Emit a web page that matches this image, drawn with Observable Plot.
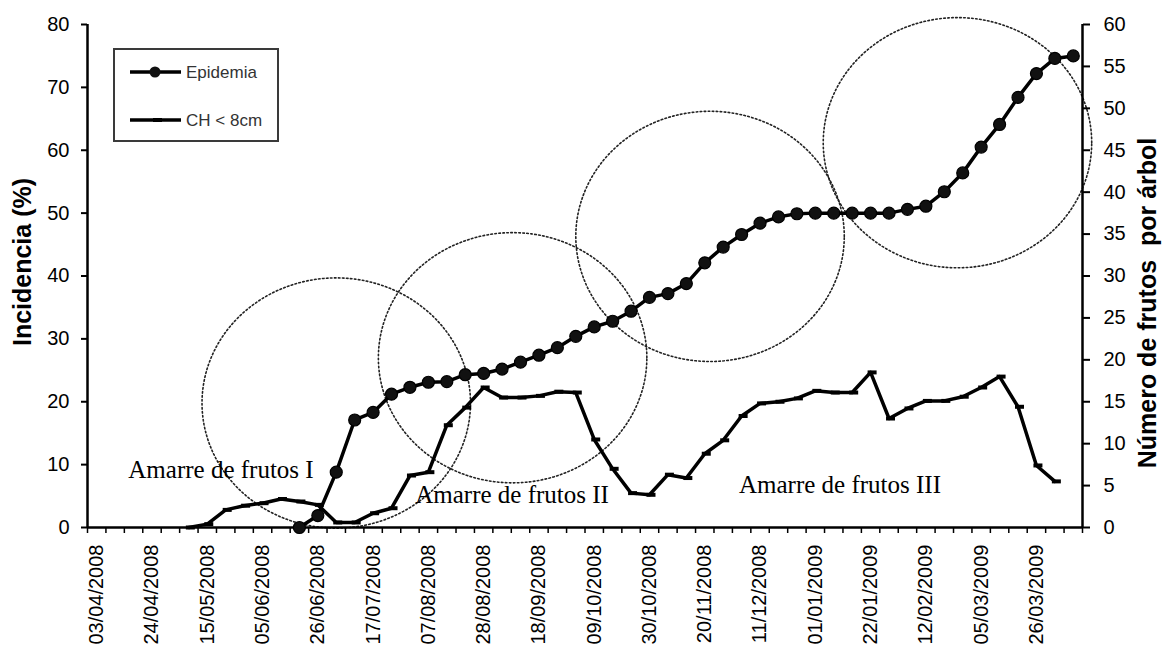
<!DOCTYPE html>
<html><head><meta charset="utf-8">
<script src="https://cdn.jsdelivr.net/npm/d3@7"></script>
<script src="https://cdn.jsdelivr.net/npm/@observablehq/plot@0.6"></script>
<style>
body{margin:0;background:#fff;}
#wrap{position:relative;width:1163px;height:654px;overflow:hidden;}
#legend{position:absolute;left:113px;top:48px;width:162px;height:90px;border:2px solid #3a3a3a;background:#fff;}
#legend svg{display:block;}
</style></head><body>
<div id="wrap"><div id="legend"></div></div>
<script>
// ---- data ----
const startDate = "2008-04-03";          // first weekly category
const weekCount = 54;                     // weekly categories on the x axis
const epidemia = [null,null,null,null,null,null,null,null,null,null,null,
  0,1.9,8.8,17.1,18.3,21.2,22.3,23.1,23.2,24.3,24.5,25.2,26.3,27.4,28.6,30.4,31.9,32.8,34.4,36.6,
  37.2,38.8,42.1,44.6,46.6,48.4,49.4,49.9,50,50,50,50,50,50.6,51.1,53.4,56.4,60.5,64.1,68.4,72.2,74.6,75.0];
const chFrutos = [null,null,null,null,null,
  0,0.4,2.1,2.6,2.9,3.4,3.1,2.7,0.6,0.6,1.7,2.3,6.2,6.6,12.2,14.3,16.7,15.5,15.5,15.7,16.2,16.1,
  10.5,7.0,4.1,3.9,6.3,5.9,8.8,10.4,13.3,14.8,15.0,15.4,16.3,16.1,16.1,18.5,13.0,14.2,15.1,15.1,
  15.6,16.7,18.0,14.4,7.4,5.5,null];
const tickLabels = ["03/04/2008","24/04/2008","15/05/2008","05/06/2008","26/06/2008","17/07/2008",
  "07/08/2008","28/08/2008","18/09/2008","09/10/2008","30/10/2008","20/11/2008","11/12/2008",
  "01/01/2009","22/01/2009","12/02/2009","05/03/2009","26/03/2009"];
const leftTicks = [0,10,20,30,40,50,60,70,80];
const rightTicks = [0,5,10,15,20,25,30,35,40,45,50,55,60];
const annotationText = ["Amarre de frutos I","Amarre de frutos II","Amarre de frutos III"];
const annotationDate = ["2008-04-15","2008-08-02","2008-12-03"];
const annotationValue = [9.1, 5.1, 6.8];
const ellipseCenterDate = ["2008-07-03","2008-09-08","2008-11-22","2009-02-24"];
const ellipseCenterValue = [19.8, 27.0, 46.3, 61.2];
const ellipseRadiusDays = 51;
const ellipseRadiusValue = 19.9;

// ---- build ----
const parseISO = d3.utcParse("%Y-%m-%d");
const parseDMY = d3.utcParse("%d/%m/%Y");
const fmtDMY = d3.utcFormat("%d/%m/%Y");
const start = parseISO(startDate);
const dates = d3.range(weekCount).map(i => d3.utcDay.offset(start, 7 * i));
const rightMax = 60, leftMax = 80;
const toLeft = v => v * leftMax / rightMax;

const epiData = dates.map((d, i) => ({date: d, v: epidemia[i]})).filter(d => d.v != null);
const chData = dates.map((d, i) => ({date: d, v: chFrutos[i] == null ? null : toLeft(chFrutos[i])})).filter(d => d.v != null);
const annotations = annotationText.map((t, i) => ({text: t, date: parseISO(annotationDate[i]), v: annotationValue[i]}));
const ellipsePts = ellipseCenterDate.flatMap((c, k) => {
  const cd = +parseISO(c);
  return d3.range(0, 361, 2).map(a => ({
    k,
    date: new Date(cd + ellipseRadiusDays * 864e5 * Math.cos(a * Math.PI / 180)),
    v: ellipseCenterValue[k] + ellipseRadiusValue * Math.sin(a * Math.PI / 180)
  }));
});

const x0 = d3.utcHour.offset(dates[0], -84);
const x1 = d3.utcHour.offset(dates[dates.length - 1], 84);
const boundaries = d3.range(weekCount + 1).map(i => d3.utcHour.offset(x0, 168 * i));
const labelDates = tickLabels.map(parseDMY);

const dashSymbol = {draw(context, size) { context.rect(-3, -2, 9, 4); }};

const font = "Arial, 'Liberation Sans', sans-serif";
const plot = Plot.plot({
  width: 1163, height: 654,
  marginLeft: 87, marginRight: 81, marginTop: 24, marginBottom: 127,
  style: {fontFamily: font, fontSize: "20px", color: "#000", background: "transparent", overflow: "visible"},
  x: {type: "utc", domain: [x0, x1]},
  y: {domain: [0, leftMax]},
  marks: [
    Plot.line(ellipsePts, {x: "date", y: "v", z: "k", stroke: "#222", strokeWidth: 1.6, strokeDasharray: "1.6 2.4"}),
    Plot.axisY({ticks: leftTicks, tickSize: 6, tickPadding: 12, fontSize: 20, label: null, strokeWidth: 2}),
    Plot.axisY({anchor: "right", ticks: rightTicks.map(toLeft), tickFormat: d => String(Math.round(d * rightMax / leftMax)),
      tickSize: 7, tickPadding: 14, fontSize: 20, label: null, strokeWidth: 2}),
    Plot.axisX({ticks: boundaries, tickSize: 6, tickFormat: () => "", label: null, strokeWidth: 1.5}),
    Plot.axisX({ticks: labelDates, tickSize: 0, tickPadding: 17, tickRotate: -90, tickFormat: fmtDMY, fontSize: 20, label: null}),
    Plot.ruleX([x0, x1], {stroke: "#000", strokeWidth: 2.5}),
    Plot.ruleY([0], {stroke: "#000", strokeWidth: 2.5}),
    Plot.line(chData, {x: "date", y: "v", stroke: "#000", strokeWidth: 3.5}),
    Plot.dot(chData, {x: "date", y: "v", symbol: dashSymbol, fill: "#000", r: 4}),
    Plot.line(epiData, {x: "date", y: "v", stroke: "#000", strokeWidth: 3.5}),
    Plot.dot(epiData, {x: "date", y: "v", r: 6, fill: "#111", stroke: "#000", strokeWidth: 1.2}),
    Plot.text(annotations, {x: "date", y: "v", text: "text", textAnchor: "start", fontFamily: "'Liberation Serif', 'Times New Roman', serif", fontSize: 25, fill: "#000"}),
    Plot.text(["Incidencia (%)"], {text: d => d, frameAnchor: "left", textAnchor: "middle", dx: -65, dy: -14, rotate: -90, fontWeight: "bold", fontSize: 25, fill: "#000"}),
    Plot.text(["Número de frutos  por árbol"], {text: d => d, frameAnchor: "right", textAnchor: "middle", dx: 65, dy: 27, rotate: -90, fontWeight: "bold", fontSize: 25, fill: "#000"})
  ]
});
plot.style.position = "absolute";
plot.style.left = "0"; plot.style.top = "0";
const wrap = document.getElementById("wrap");
wrap.insertBefore(plot, wrap.firstChild);

// legend
const legendItems = [{name: "Epidemia", marker: "circle"}, {name: "CH < 8cm", marker: "dash"}];
const lsvg = d3.select("#legend").append("svg").attr("width", 162).attr("height", 90);
legendItems.forEach((it, i) => {
  const y = 22 + i * 48;
  const g = lsvg.append("g").attr("transform", `translate(0,${y})`);
  g.append("line").attr("x1", 15).attr("x2", 66).attr("y1", 0).attr("y2", 0).attr("stroke", "#000").attr("stroke-width", 3.5);
  if (it.marker === "circle") g.append("circle").attr("cx", 40).attr("cy", 0).attr("r", 5.5).attr("fill", "#111");
  else g.append("rect").attr("x", 38).attr("y", -2).attr("width", 9).attr("height", 4).attr("fill", "#000");
  g.append("text").attr("x", 71).attr("y", 0).attr("dy", "0.35em").attr("font-family", font).attr("font-size", 17).attr("fill", "#333").text(it.name);
});
</script>
</body></html>
